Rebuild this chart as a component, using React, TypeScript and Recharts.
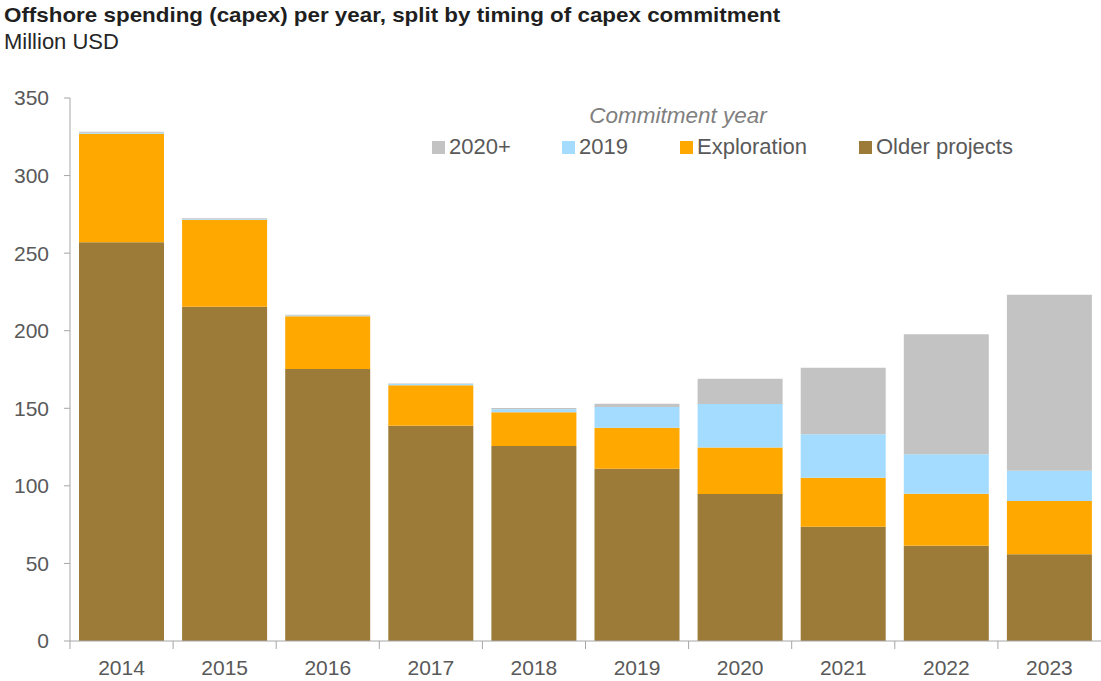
import React from "react";
import { BarChart, Bar, XAxis, YAxis } from "recharts";

const years = ["2014", "2015", "2016", "2017", "2018", "2019", "2020", "2021", "2022", "2023"];
const olderProjects = [257, 215.5, 175.3, 138.8, 125.7, 111, 94.8, 73.7, 61.4, 55.9];
const exploration = [70, 56, 34, 26, 21.7, 26.5, 30, 31.6, 33.5, 34.3];
const commit2019 = [0.6, 0.5, 0.5, 0.8, 2, 13.3, 28, 27.9, 25.4, 19.6];
const commit2020plus = [0.6, 0.5, 0.5, 0.3, 0.8, 2.2, 16.2, 43, 77.4, 113.4];
const yTicks = [0, 50, 100, 150, 200, 250, 300, 350];

const seriesNames = ["2020+", "2019", "Exploration", "Older projects"];
const seriesColors = ["#C3C3C3", "#A3DCFF", "#FFA800", "#9C7A38"];
const legendLefts = [432, 562, 680, 859];

const data = years.map((y, i) => ({
  year: y,
  older: olderProjects[i],
  exploration: exploration[i],
  c2019: commit2019[i],
  c2020: commit2020plus[i],
}));

const FONT = "'Liberation Sans', Arial, sans-serif";
const TEXT = "#595959";
const AXIS = "#A6A6A6";

const XTick = (props: any) => {
  const { x, y, payload } = props;
  const off = payload && payload.offset ? payload.offset : 51.5;
  return (
    <g>
      <line x1={x - off} x2={x - off} y1={y} y2={y + 8} stroke={AXIS} strokeWidth={1} />
      <text x={x} y={y + 34} textAnchor="middle" fill={TEXT} fontSize={21} fontFamily={FONT}>
        {payload.value}
      </text>
    </g>
  );
};

export default function App() {
  return (
    <div style={{ position: "absolute", left: 0, top: 0, width: 1101, height: 681, background: "#fff", fontFamily: FONT }}>
      <BarChart
        width={1101}
        height={681}
        data={data}
        margin={{ top: 98, right: 0, left: 0, bottom: 10 }}
        barSize={85}
        style={{ position: "absolute", left: 0, top: 0 }}
      >
        <XAxis
          dataKey="year"
          height={30}
          tickSize={0}
          tickMargin={0}
          tickLine={false}
          axisLine={{ stroke: AXIS }}
          tick={<XTick />}
          interval={0}
        />
        <YAxis
          width={70}
          domain={[0, 350]}
          ticks={yTicks}
          tickSize={6}
          tickMargin={15}
          tickLine={{ stroke: AXIS }}
          axisLine={{ stroke: AXIS }}
          tick={{ fill: TEXT, fontSize: 21, fontFamily: FONT }}
          allowDataOverflow
        />
        <Bar dataKey="older" name="Older projects" stackId="a" fill="#9C7A38" isAnimationActive={false} />
        <Bar dataKey="exploration" name="Exploration" stackId="a" fill="#FFA800" isAnimationActive={false} />
        <Bar dataKey="c2019" name="2019" stackId="a" fill="#A3DCFF" isAnimationActive={false} />
        <Bar dataKey="c2020" name="2020+" stackId="a" fill="#C3C3C3" isAnimationActive={false} />
      </BarChart>
      <div
        style={{
          position: "absolute",
          left: 4,
          top: 3,
          fontSize: 21,
          fontWeight: "bold",
          color: "#1F1F1F",
          whiteSpace: "nowrap",
          transform: "scaleX(1.066)",
          transformOrigin: "left top",
        }}
      >
        Offshore spending (capex) per year, split by timing of capex commitment
      </div>
      <div style={{ position: "absolute", left: 4, top: 29, fontSize: 22, color: "#262626", whiteSpace: "nowrap" }}>
        Million USD
      </div>
      <div
        style={{
          position: "absolute",
          left: 578,
          width: 200,
          top: 103,
          textAlign: "center",
          fontStyle: "italic",
          fontSize: 22.5,
          color: "#7F7F7F",
          whiteSpace: "nowrap",
        }}
      >
        Commitment year
      </div>
      {seriesNames.map((name, i) => (
        <div
          key={name}
          style={{
            position: "absolute",
            left: legendLefts[i],
            top: 134,
            display: "flex",
            alignItems: "center",
            whiteSpace: "nowrap",
          }}
        >
          <span style={{ display: "inline-block", width: 13, height: 13, background: seriesColors[i], marginRight: 4 }} />
          <span style={{ fontSize: 22, color: TEXT }}>{name}</span>
        </div>
      ))}
    </div>
  );
}
